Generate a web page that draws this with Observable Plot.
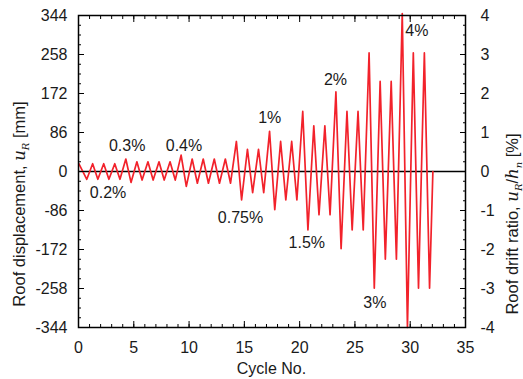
<!DOCTYPE html>
<html><head><meta charset="utf-8">
<script src="https://cdn.jsdelivr.net/npm/d3@7"></script>
<script src="https://cdn.jsdelivr.net/npm/@observablehq/plot@0.6"></script>
<style>body{margin:0;background:#fff}#chart{position:absolute;left:0;top:0}</style>
</head><body><div id="chart"></div>
<script>
// Peak and trough roof drift ratio [%] for each cycle (cycle 0..31)
const peakDrift = [0.20,0.20,0.20,0.20, 0.32,0.25,0.25,0.25,0.25, 0.42,0.32,0.32,0.32,0.32,
  0.77,0.57,0.57, 1.03,0.77,0.77, 1.54,1.17,1.17, 2.04,1.54,1.54, 3.04,2.31,2.31, 4.05,3.04,3.04];
const troughDrift = [-0.20,-0.20,-0.20,-0.20, -0.28,-0.22,-0.22,-0.22,-0.22, -0.38,-0.30,-0.30,-0.30,-0.30,
  -0.73,-0.54,-0.54, -0.98,-0.73,-0.73, -1.50,-1.11,-1.11, -1.98,-1.50,-1.50, -2.99,-2.25,-2.25, -4.00,-2.99,-2.99];
const firstPeakCycle = 0.03, peakPhase = 0.28, troughPhase = 0.75, endCycle = 32.05;

const labelText = ["0.2%","0.3%","0.4%","0.75%","1%","1.5%","2%","3%","4%"];
const labelCycle = [2.67, 4.4, 9.54, 14.65, 17.3, 20.65, 23.24, 26.8, 30.6];
const labelDrift = [-0.54, 0.66, 0.66, -1.2, 1.37, -1.82, 2.35, -3.38, 3.6];

const xMajor = [0,5,10,15,20,25,30,35];
const xMinor = d3.range(0, 36, 1);
const yMajor = [-4,-3,-2,-1,0,1,2,3,4];
const yMinor = d3.range(-4, 4.01, 0.25);
const mmPerPercent = 86;

const pts = [];
peakDrift.forEach((p, i) => {
  pts.push({c: i === 0 ? firstPeakCycle : i + peakPhase, d: p});
  pts.push({c: i + troughPhase, d: troughDrift[i]});
});
pts.push({c: endCycle, d: 0});

const font = "'Liberation Sans', Arial, sans-serif";
const blank = () => "";
const svg = Plot.plot({
  width: 523, height: 379,
  marginLeft: 78, marginRight: 58, marginTop: 15, marginBottom: 52,
  style: {fontFamily: font, fontSize: "16px", color: "#1a1a1a", background: "white", overflow: "visible"},
  x: {domain: [0, 35]},
  y: {domain: [-4, 4]},
  marks: [
    Plot.ruleY([0], {stroke: "black", strokeWidth: 1.5}),
    Plot.line(pts, {x: "c", y: "d", stroke: "#f2222b", strokeWidth: 1.7}),
    Plot.axisX(xMinor, {anchor: "bottom", tickSize: -3, tickFormat: blank, label: null, stroke: "black"}),
    Plot.axisX(xMajor, {anchor: "bottom", tickSize: -6, tickPadding: 20, label: null, stroke: "black"}),
    Plot.axisX(xMinor, {anchor: "top", tickSize: -3, tickFormat: blank, label: null, stroke: "black"}),
    Plot.axisX(xMajor, {anchor: "top", tickSize: -6, tickFormat: blank, label: null, stroke: "black"}),
    Plot.axisY(yMinor, {anchor: "left", tickSize: -3, tickFormat: blank, label: null, stroke: "black"}),
    Plot.axisY(yMajor, {anchor: "left", tickSize: -6, tickPadding: 17, tickFormat: d => String(d * mmPerPercent), label: null, stroke: "black"}),
    Plot.axisY(yMinor, {anchor: "right", tickSize: -3, tickFormat: blank, label: null, stroke: "black"}),
    Plot.axisY(yMajor, {anchor: "right", tickSize: -6, tickPadding: 21, tickFormat: d => String(d), label: null, stroke: "black"}),
    Plot.frame({stroke: "black", strokeWidth: 1.5}),
    Plot.text(labelText, {x: (d, i) => labelCycle[i], y: (d, i) => labelDrift[i], text: d => d, fontSize: 16, fill: "#1a1a1a"})
  ]
});

document.getElementById("chart").appendChild(svg);

const s = d3.select(svg);
function title(cx, cy, parts) {
  const g = s.append("g").attr("transform", `translate(${cx},${cy}) rotate(-90)`);
  const t = g.append("text")
    .attr("x", 0).attr("y", 0)
    .attr("text-anchor", "start")
    .attr("dy", "0.35em")
    .attr("font-family", font).attr("font-size", 16.5).attr("fill", "#1a1a1a");
  parts.forEach(p => {
    const ts = t.append("tspan").text(p.t);
    if (p.it) ts.attr("font-family", "'DejaVu Serif', 'Liberation Serif', serif").attr("font-style", "italic");
    if (p.sub) ts.attr("font-size", 10).attr("dy", 4);
    if (p.unsub) ts.attr("dy", -4);
  });
  const L = t.node().getComputedTextLength();
  t.attr("x", -L / 2);
}
title(19, 204, [{t: "Roof displacement, "}, {t: "u", it: true}, {t: "R", it: true, sub: true}, {t: " [mm]", unsub: true}]);
title(512, 224, [{t: "Roof drift ratio, "}, {t: "u", it: true}, {t: "R", it: true, sub: true}, {t: "/", unsub: true}, {t: "h", it: true}, {t: "n", it: true, sub: true}, {t: " [%]", unsub: true}]);
s.append("text").attr("x", 271.5).attr("y", 368).attr("text-anchor", "middle").attr("dy", "0.35em")
  .attr("font-family", font).attr("font-size", 16).attr("fill", "#1a1a1a").text("Cycle No.");
</script></body></html>
